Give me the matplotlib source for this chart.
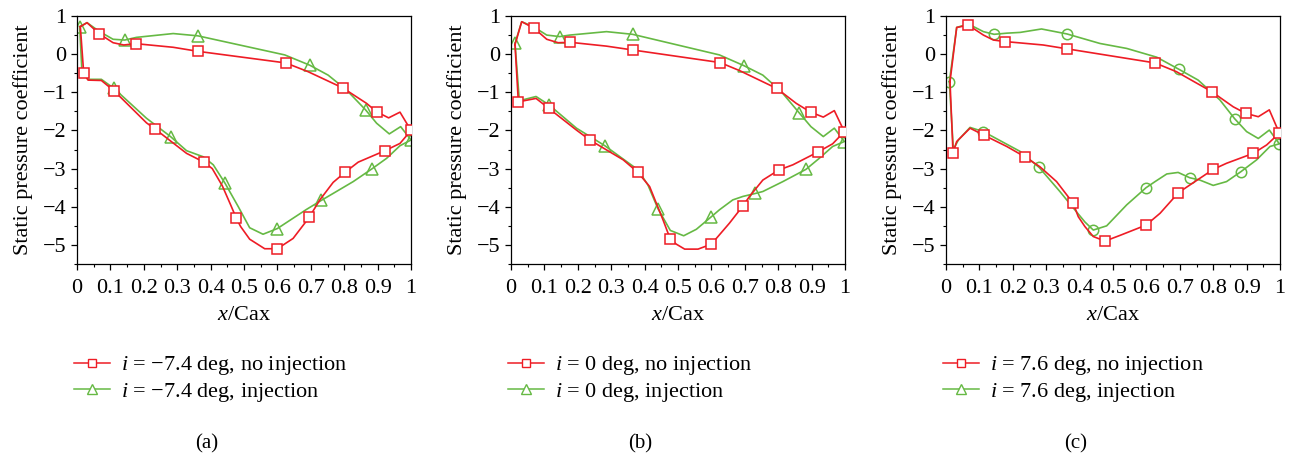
import matplotlib
matplotlib.use("Agg")
import matplotlib.pyplot as plt
from matplotlib.lines import Line2D
from matplotlib.ticker import MultipleLocator

plt.rcParams['font.family'] = ['Liberation Serif', 'DejaVu Serif']
plt.rcParams['mathtext.fontset'] = 'custom'
plt.rcParams['mathtext.rm'] = 'Liberation Serif'
plt.rcParams['mathtext.it'] = 'Liberation Serif:italic'
plt.rcParams['axes.unicode_minus'] = True

RED = '#ee1c25'
GREEN = '#66b944'

# ---------------- Panel (a): i = -7.4 deg ----------------
a_red_x = [0.010, 0.030, 0.066, 0.108, 0.140, 0.176, 0.288, 0.362, 0.625, 0.692, 0.796, 0.867, 0.897, 0.933, 0.967, 1.000,
           0.967, 0.922, 0.842, 0.802, 0.767, 0.727, 0.695, 0.647, 0.600, 0.562, 0.517, 0.490, 0.477, 0.460, 0.435, 0.405,
           0.380, 0.328, 0.235, 0.208, 0.112, 0.073, 0.033, 0.020, 0.010]
a_red_y = [0.72, 0.825, 0.537, 0.30, 0.24, 0.275, 0.18, 0.074, -0.23, -0.46, -0.886, -1.29, -1.51, -1.67, -1.52, -2.0,
           -2.34, -2.53, -2.83, -3.1, -3.36, -3.82, -4.28, -4.83, -5.1, -5.1, -4.85, -4.52, -4.3, -3.95, -3.45, -3.0,
           -2.83, -2.6, -1.97, -1.8, -0.97, -0.69, -0.68, -0.49, 0.72]
a_red_marks = [2, 5, 7, 8, 10, 12, 15, 17, 19, 22, 24, 28, 32, 34, 36, 39]

a_grn_x = [0.008, 0.030, 0.068, 0.108, 0.143, 0.178, 0.288, 0.362, 0.622, 0.697, 0.752, 0.807, 0.864, 0.897, 0.935, 0.969,
           1.000, 0.967, 0.927, 0.884, 0.827, 0.767, 0.732, 0.687, 0.600, 0.557, 0.517, 0.483, 0.443, 0.408, 0.378, 0.328,
           0.280, 0.208, 0.111, 0.073, 0.033, 0.015, 0.008]
a_grn_y = [0.72, 0.825, 0.59, 0.39, 0.37, 0.44, 0.54, 0.48, -0.02, -0.29, -0.55, -0.94, -1.46, -1.81, -2.09, -1.90,
           -2.25, -2.40, -2.73, -3.00, -3.34, -3.65, -3.83, -4.07, -4.57, -4.72, -4.55, -4.0, -3.38, -2.90, -2.69, -2.53,
           -2.16, -1.68, -0.90, -0.66, -0.66, -0.5, 0.72]
a_grn_marks = [0, 4, 7, 9, 12, 16, 19, 22, 24, 28, 32, 34]

# ---------------- Panel (b): i = 0 deg ----------------
b_red_x = [0.012, 0.032, 0.069, 0.107, 0.141, 0.178, 0.286, 0.364, 0.626, 0.684, 0.796, 0.854, 0.897, 0.935, 0.968, 0.998,
           0.963, 0.920, 0.844, 0.801, 0.754, 0.714, 0.695, 0.654, 0.600, 0.560, 0.520, 0.495, 0.477, 0.455, 0.415, 0.380,
           0.336, 0.236, 0.196, 0.113, 0.075, 0.022, 0.012]
b_red_y = [0.25, 0.85, 0.68, 0.39, 0.30, 0.31, 0.21, 0.11, -0.22, -0.43, -0.90, -1.29, -1.52, -1.65, -1.48, -2.03,
           -2.35, -2.56, -2.90, -3.04, -3.30, -3.73, -3.97, -4.43, -4.98, -5.11, -5.11, -4.98, -4.85, -4.34, -3.47, -3.10,
           -2.77, -2.25, -1.99, -1.42, -1.16, -1.25, 0.25]
b_red_marks = [2, 5, 7, 8, 10, 12, 15, 17, 19, 22, 24, 28, 31, 33, 35, 37]

b_grn_x = [0.012, 0.032, 0.067, 0.107, 0.146, 0.176, 0.286, 0.364, 0.624, 0.697, 0.754, 0.809, 0.862, 0.898, 0.935, 0.968,
           0.998, 0.963, 0.923, 0.883, 0.814, 0.754, 0.732, 0.694, 0.664, 0.624, 0.600, 0.555, 0.517, 0.477, 0.440, 0.410,
           0.380, 0.281, 0.196, 0.114, 0.075, 0.025, 0.012]
b_grn_y = [0.28, 0.85, 0.72, 0.50, 0.46, 0.50, 0.59, 0.52, -0.02, -0.30, -0.55, -0.98, -1.53, -1.90, -2.16, -1.94,
           -2.29, -2.42, -2.73, -3.02, -3.34, -3.60, -3.65, -3.73, -3.82, -4.08, -4.26, -4.59, -4.76, -4.62, -4.05, -3.43,
           -3.03, -2.40, -1.94, -1.33, -1.11, -1.22, 0.28]
b_grn_marks = [0, 4, 7, 9, 12, 16, 19, 22, 26, 30, 33, 35]

# ---------------- Panel (c): i = 7.6 deg ----------------
c_red_x = [0.012, 0.032, 0.067, 0.112, 0.142, 0.177, 0.291, 0.362, 0.626, 0.690, 0.795, 0.860, 0.897, 0.935, 0.968, 0.998,
           0.960, 0.920, 0.840, 0.800, 0.730, 0.696, 0.641, 0.599, 0.521, 0.476, 0.441, 0.416, 0.396, 0.381, 0.331, 0.281,
           0.236, 0.182, 0.115, 0.072, 0.032, 0.021, 0.012]
c_red_y = [-0.72, 0.70, 0.76, 0.50, 0.37, 0.33, 0.24, 0.14, -0.23, -0.46, -0.98, -1.38, -1.55, -1.64, -1.46, -2.07,
           -2.38, -2.60, -2.86, -3.02, -3.43, -3.63, -4.17, -4.48, -4.75, -4.90, -4.78, -4.52, -4.26, -3.91, -3.34, -2.95,
           -2.69, -2.42, -2.13, -1.94, -2.29, -2.58, -0.72]
c_red_marks = [2, 5, 7, 8, 10, 12, 15, 17, 19, 21, 23, 25, 29, 32, 34, 37]

c_grn_x = [0.010, 0.032, 0.067, 0.112, 0.144, 0.182, 0.222, 0.286, 0.362, 0.461, 0.541, 0.631, 0.698, 0.755, 0.820, 0.864,
           0.900, 0.935, 0.968, 0.998, 0.970, 0.930, 0.883, 0.840, 0.800, 0.760, 0.730, 0.695, 0.661, 0.626, 0.599, 0.541,
           0.481, 0.441, 0.416, 0.381, 0.341, 0.279, 0.222, 0.112, 0.072, 0.037, 0.022, 0.010]
c_grn_y = [-0.72, 0.70, 0.79, 0.59, 0.52, 0.55, 0.57, 0.66, 0.53, 0.28, 0.15, -0.08, -0.40, -0.68, -1.20, -1.69,
           -2.03, -2.21, -1.99, -2.35, -2.42, -2.77, -3.08, -3.34, -3.44, -3.30, -3.24, -3.10, -3.14, -3.34, -3.50, -3.95,
           -4.50, -4.61, -4.40, -4.03, -3.60, -2.97, -2.55, -2.03, -1.92, -2.25, -2.50, -0.72]
c_grn_marks = [0, 4, 8, 12, 15, 19, 22, 26, 30, 33, 37, 39]

panels = [
    dict(rx=a_red_x, ry=a_red_y, rm=a_red_marks, gx=a_grn_x, gy=a_grn_y, gm=a_grn_marks, gmark='^',
         lab_red='$i$ = \u22127.4 deg, no injection', lab_grn='$i$ = \u22127.4 deg, injection', cap='(a)'),
    dict(rx=b_red_x, ry=b_red_y, rm=b_red_marks, gx=b_grn_x, gy=b_grn_y, gm=b_grn_marks, gmark='^',
         lab_red='$i$ = 0 deg, no injection', lab_grn='$i$ = 0 deg, injection', cap='(b)'),
    dict(rx=c_red_x, ry=c_red_y, rm=c_red_marks, gx=c_grn_x, gy=c_grn_y, gm=c_grn_marks, gmark='o',
         lab_red='$i$ = 7.6 deg, no injection', lab_grn='$i$ = 7.6 deg, injection', cap='(c)'),
]

W, H = 1291, 458
fig = plt.figure(figsize=(W / 100, H / 100), dpi=100)

ax_left_px = [77, 511, 946]
ax_w_px = 334
ax_top_px, ax_bot_px = 16, 264
leg_left_px = [74, 508, 943]
cap_x_px = [207, 640, 1076]
FS = 16

for i, p in enumerate(panels):
    ax = fig.add_axes([ax_left_px[i] / W, 1 - ax_bot_px / H, ax_w_px / W, (ax_bot_px - ax_top_px) / H])
    ax.plot(p['rx'], p['ry'], color=RED, lw=1.2, marker='s', markevery=p['rm'], ms=7,
            mfc='white', mec=RED, mew=1.1, zorder=3)
    ax.plot(p['gx'], p['gy'], color=GREEN, lw=1.2, marker=p['gmark'], markevery=p['gm'],
            ms=8 if p['gmark'] == '^' else 7.5, mfc='none', mec=GREEN, mew=1.1, zorder=2)
    ax.set_xlim(0, 1)
    ax.set_ylim(-5.5, 1)
    ax.xaxis.set_minor_locator(MultipleLocator(0.05))
    ax.yaxis.set_major_locator(MultipleLocator(1))
    ax.yaxis.set_minor_locator(MultipleLocator(0.5))
    ax.set_xticks([k / 10 for k in range(11)])
    ax.set_xticklabels(['0'] + ['0.%d' % k for k in range(1, 10)] + ['1'])
    ax.tick_params(which='major', direction='out', length=4.5, width=0.9, labelsize=FS, pad=3)
    ax.tick_params(axis='x', which='major', pad=6)
    ax.tick_params(which='minor', direction='out', length=2.5, width=0.8)
    for s in ax.spines.values():
        s.set_linewidth(0.9)
    ax.set_ylabel('Static pressure coefficient', fontsize=FS, labelpad=7)
    ax.set_xlabel('$x$/Cax', fontsize=FS, labelpad=6)

    handles = [
        Line2D([], [], color=RED, lw=1.1, marker='s', ms=5.5, mfc='white', mec=RED, mew=1.0),
        Line2D([], [], color=GREEN, lw=1.1, marker='^', ms=6.5, mfc='white', mec=GREEN, mew=1.0),
    ]
    ax.legend(handles, [p['lab_red'], p['lab_grn']], loc='center left',
              bbox_to_anchor=(leg_left_px[i] / W, 1 - 379 / H), bbox_transform=fig.transFigure,
              frameon=False, fontsize=FS, handlelength=1.6, handletextpad=0.5,
              labelspacing=0.15, borderpad=0, borderaxespad=0)
    fig.text(cap_x_px[i] / W, 1 - 444 / H, p['cap'], ha='center', va='center', fontsize=15)

fig.savefig('out.png', dpi=100)
